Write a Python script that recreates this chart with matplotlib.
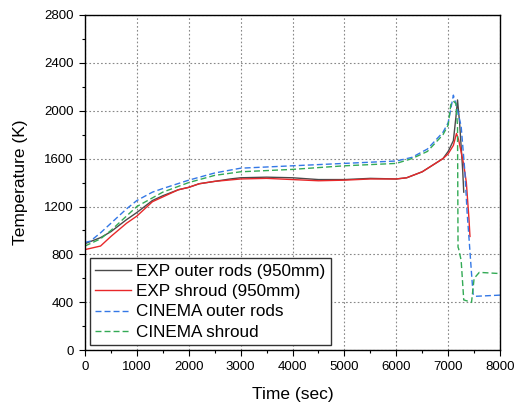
import numpy as np
import matplotlib
matplotlib.use("Agg")
import matplotlib.pyplot as plt
from matplotlib.ticker import MultipleLocator

plt.rcParams['font.family'] = ['Liberation Sans', 'DejaVu Sans']

# EXP outer rods (950mm)
t_exp_rod = [0, 300, 500, 800, 1000, 1300, 1500, 1800, 2000, 2200, 2500, 2800, 3000, 3500,
             4000, 4500, 5000, 5500, 6000, 6200, 6500, 6900, 7000, 7100, 7150, 7180, 7220, 7280, 7300]
T_exp_rod = [890, 940, 990, 1090, 1150, 1250, 1290, 1340, 1360, 1390, 1410, 1430, 1440, 1445,
             1440, 1425, 1425, 1435, 1430, 1440, 1490, 1600, 1660, 1750, 1950, 2090, 1900, 1500, 1320]

# EXP shroud (950mm)
t_exp_shr = [0, 300, 500, 800, 1000, 1300, 1500, 1800, 2000, 2200, 2500, 3000, 3500, 4000,
             4500, 5000, 5500, 6000, 6200, 6500, 6900, 7000, 7100, 7160, 7200, 7300, 7350, 7400, 7420]
T_exp_shr = [840, 870, 950, 1060, 1120, 1240, 1280, 1340, 1360, 1390, 1410, 1430, 1435, 1425,
             1415, 1420, 1430, 1430, 1440, 1490, 1600, 1640, 1710, 1810, 1760, 1550, 1400, 1100, 950]

# CINEMA outer rods
t_cin_rod = [0, 100, 300, 500, 800, 1000, 1300, 1500, 2000, 2500, 3000, 4000, 5000, 6000,
             6300, 6600, 6900, 7000, 7100, 7160, 7250, 7320, 7365, 7404, 7450, 7480, 7520, 8000]
T_cin_rod = [900, 910, 980, 1060, 1180, 1250, 1320, 1350, 1420, 1480, 1520, 1540, 1560, 1580,
             1610, 1680, 1820, 1900, 2130, 2040, 1870, 1500, 1150, 920, 640, 470, 450, 460]

# CINEMA shroud
t_cin_shr = [0, 300, 500, 1000, 1500, 2000, 2500, 3000, 4000, 5000, 6000, 6300, 6600, 6900,
             7000, 7050, 7100, 7150, 7180, 7190, 7200, 7250, 7300, 7450, 7500, 7600, 8000]
T_cin_shr = [870, 930, 1000, 1200, 1320, 1400, 1460, 1490, 1510, 1540, 1560, 1600, 1660, 1800,
             1880, 2050, 2080, 2060, 1870, 860, 850, 750, 420, 400, 600, 650, 640]

fig, ax = plt.subplots(figsize=(5.15, 4.03), dpi=100)
fig.subplots_adjust(left=0.165, right=0.971, top=0.963, bottom=0.131)

dash = (0, (4.3, 2.2))
ax.plot(t_exp_rod, T_exp_rod, color="#4a4a4a", lw=1.0, label="EXP outer rods (950mm)")
ax.plot(t_exp_shr, T_exp_shr, color="#e8282a", lw=1.0, label="EXP shroud (950mm)")
ax.plot(t_cin_rod, T_cin_rod, color="#3478e6", lw=1.0, ls=dash, label="CINEMA outer rods")
ax.plot(t_cin_shr, T_cin_shr, color="#33aa55", lw=1.0, ls=dash, label="CINEMA shroud")

ax.set_xlim(0, 8000)
ax.set_ylim(0, 2800)
ax.xaxis.set_major_locator(MultipleLocator(1000))
ax.xaxis.set_minor_locator(MultipleLocator(500))
ax.yaxis.set_major_locator(MultipleLocator(400))
ax.yaxis.set_minor_locator(MultipleLocator(200))
ax.tick_params(which="major", direction="out", length=4.5, width=0.8, labelsize=9.5)
ax.tick_params(which="minor", direction="out", length=2.5, width=0.8)
ax.grid(True, which="major", color="#888888", ls=(0, (1.5, 2)), lw=0.8)
for s in ax.spines.values():
    s.set_linewidth(1.0)

ax.set_xlabel("Time (sec)", fontsize=12.5, labelpad=10)
ax.set_ylabel("Temperature (K)", fontsize=12.5, labelpad=12)

leg = ax.legend(loc="lower left", fontsize=12.3, fancybox=False, framealpha=1,
                edgecolor="#333333", borderpad=0.3, labelspacing=0.32,
                handlelength=2.1, handletextpad=0.3, borderaxespad=0.3)
leg.get_frame().set_linewidth(1.0)

fig.savefig("out.png", dpi=100)
